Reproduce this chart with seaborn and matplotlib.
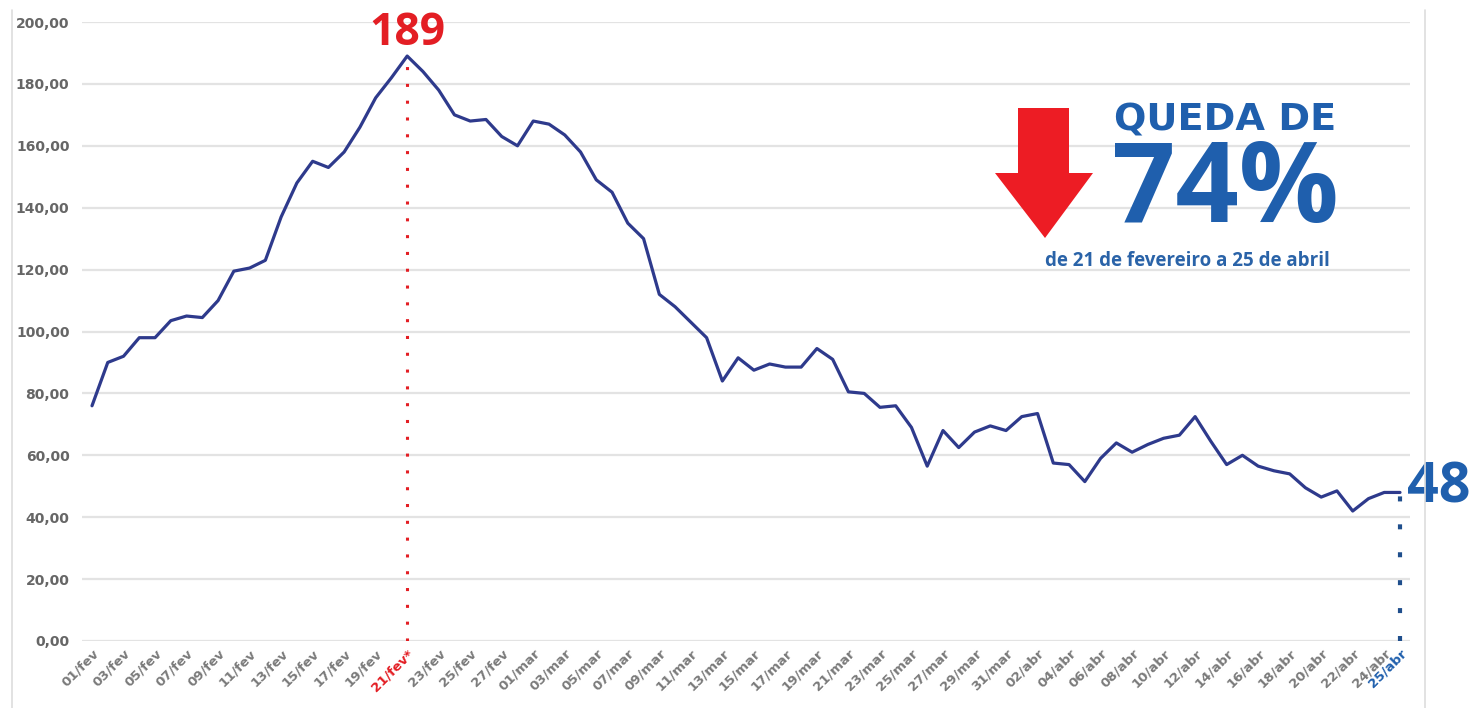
import numpy as np
import pandas as pd
import matplotlib
matplotlib.use("Agg")
import matplotlib.pyplot as plt
from matplotlib.patches import Polygon
from matplotlib.lines import Line2D
import seaborn as sns

# ---- data ----
fev_days = [f"{d:02d}/fev" for d in range(1, 29)]
mar_days = [f"{d:02d}/mar" for d in range(1, 32)]
abr_days = [f"{d:02d}/abr" for d in range(1, 26)]
dates = fev_days + mar_days + abr_days

values_fev = [76, 90, 92, 98, 98, 103.5, 105, 104.5, 110, 119.5, 120.5, 123, 137, 148,
              155, 153, 158, 166, 175.5, 182, 189, 184, 178, 170, 168, 168.5, 163, 160]
values_mar = [168, 167, 163.5, 158, 149, 145, 135, 130, 112, 108, 103, 98, 84, 91.5,
              87.5, 89.5, 88.5, 88.5, 94.5, 91, 80.5, 80, 75.5, 76, 69, 56.5, 68, 62.5,
              67.5, 69.5, 68]
values_abr = [72.5, 73.5, 57.5, 57, 51.5, 59, 64, 61, 63.5, 65.5, 66.5, 72.5, 64.5, 57,
              60, 56.5, 55, 54, 49.5, 46.5, 48.5, 42, 46, 48, 48]
values = values_fev + values_mar + values_abr

yticks = [0, 20, 40, 60, 80, 100, 120, 140, 160, 180, 200]
peak_label = "189"
last_label = "48"
title_top = "QUEDA DE"
title_big = "74%"
subtitle = "de 21 de fevereiro a 25 de abril"

df = pd.DataFrame({"idx": np.arange(len(values)), "data": dates, "valor": values})

# ---- style ----
sns.set_style("white")
plt.rcParams["font.family"] = ["DejaVu Sans"]

W, H = 1470, 708
fig = plt.figure(figsize=(W / 100, H / 100), dpi=100)
fig.patch.set_facecolor("white")

def fx(px):
    return px / W

def fy(py):
    return 1 - py / H

ax = fig.add_axes([fx(82), fy(641), fx(1410) - fx(82), fy(22) - fy(641)])

LINE = "#2E3A8C"
RED = "#E31E24"
BLUE = "#1F5FAD"
GRID = "#E3E3E3"
LABEL = "#7A7A7A"

sns.lineplot(data=df, x="idx", y="valor", ax=ax, color=LINE, linewidth=2.3, zorder=3)

n = len(values)
ax.set_xlim(-0.635, n - 1 + 0.635)
ax.set_ylim(0, 200)
ax.set_yticks(yticks)
ax.set_yticklabels([f"{v:.2f}".replace(".", ",") for v in yticks],
                   color="#666666", fontsize=10, fontweight="bold")
ax.yaxis.grid(True, color=GRID, linewidth=1.6, zorder=0)
ax.xaxis.grid(False)
for s in ax.spines.values():
    s.set_visible(False)
ax.tick_params(axis="both", length=0)
ax.tick_params(axis="y", pad=9)
ax.set_xlabel("")
ax.set_ylabel("")

peak_idx = int(np.argmax(values))
last_idx = n - 1

tick_pos = list(range(0, n, 2))
if last_idx not in tick_pos:
    tick_pos.append(last_idx)
tick_labels = []
for p in tick_pos:
    lab = dates[p]
    if p == peak_idx:
        lab = lab + "*"
    tick_labels.append(lab)
ax.set_xticks(tick_pos)
ax.set_xticklabels(tick_labels, rotation=45, ha="right", rotation_mode="anchor",
                   fontsize=9.5, fontweight="bold", color=LABEL)
ax.tick_params(axis="x", pad=4)
for p, t in zip(tick_pos, ax.get_xticklabels()):
    if p == peak_idx:
        t.set_color(RED)
    elif p == last_idx:
        t.set_color(BLUE)

# peak dotted line and label
ax.plot([peak_idx, peak_idx], [0, values[peak_idx]], color=RED, linewidth=2.2,
        linestyle=(0, (1, 4.5)), zorder=2)
ax.text(peak_idx, values[peak_idx] + 3.6, peak_label, ha="center", va="baseline",
        color=RED, fontsize=32, fontweight="bold", family=["Open Sans", "DejaVu Sans"],
        clip_on=False)

# last dotted line and label
ax.plot([last_idx, last_idx], [0, values[last_idx]], color="#1F4E8C", linewidth=3,
        linestyle=(0, (1.2, 5.5)), solid_capstyle="butt", dash_capstyle="butt", zorder=2)
ax.text(last_idx + 0.45, values[last_idx] - 3.4, last_label, ha="left", va="baseline",
        color=BLUE, fontsize=40, fontweight="bold", family=["Open Sans", "DejaVu Sans"],
        clip_on=False)

# callout text
fig.text(fx(1114), fy(131), title_top, ha="left", va="baseline", color=BLUE,
         fontsize=27.5, fontweight="bold", family=["DejaVu Sans"])
fig.text(fx(1112), fy(222), title_big, ha="left", va="baseline", color=BLUE,
         fontsize=80, fontweight="bold", family=["Open Sans", "DejaVu Sans"])
fig.text(fx(1045), fy(266), subtitle, ha="left", va="baseline", color="#2A63A8",
         fontsize=13.5, fontweight="bold", family=["Open Sans", "DejaVu Sans"])

# red arrow
arrow_px = [(1018, 108), (1069, 108), (1069, 173), (1093, 173), (1045, 238),
            (995, 173), (1018, 173)]
arrow = Polygon([(fx(x), fy(y)) for x, y in arrow_px], closed=True,
                transform=fig.transFigure, facecolor="#ED1C24", edgecolor="none")
fig.patches.append(arrow)

# chart area border lines
for xp in (12, 1425):
    fig.lines.append(Line2D([fx(xp), fx(xp)], [fy(10), 0], transform=fig.transFigure,
                            color="#DDDDDD", linewidth=1.2))

fig.savefig("out.png", dpi=100, facecolor="white")
